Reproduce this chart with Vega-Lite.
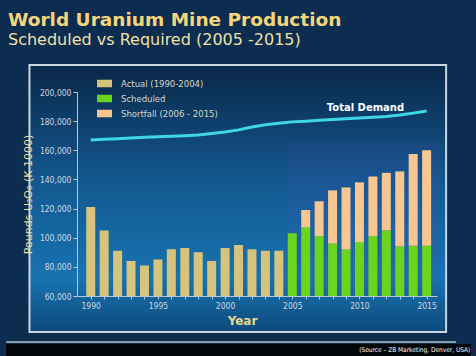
{
  "$schema": "https://vega.github.io/schema/vega-lite/v6.json",
  "width": 360,
  "height": 204,
  "autosize": "none",
  "padding": {"left": 77, "top": 92, "right": 39, "bottom": 60},
  "background": "#0c2c50",
  "title": {
    "text": "World Uranium Mine Production",
    "subtitle": "Scheduled vs Required (2005 -2015)",
    "anchor": "start",
    "frame": "group",
    "dx": -69,
    "offset": 16,
    "font": "DejaVu Sans",
    "fontSize": 18.5,
    "fontWeight": "bold",
    "color": "#f5d57a",
    "subtitleFont": "DejaVu Sans",
    "subtitleFontSize": 16,
    "subtitleColor": "#f0e0a6",
    "subtitlePadding": 3
  },
  "datasets": {
    "bars": [
      {"year": 1990, "series": "Actual (1990-2004)", "value": 121000},
      {"year": 1991, "series": "Actual (1990-2004)", "value": 105000},
      {"year": 1992, "series": "Actual (1990-2004)", "value": 91000},
      {"year": 1993, "series": "Actual (1990-2004)", "value": 84000},
      {"year": 1994, "series": "Actual (1990-2004)", "value": 81000},
      {"year": 1995, "series": "Actual (1990-2004)", "value": 85000},
      {"year": 1996, "series": "Actual (1990-2004)", "value": 92000},
      {"year": 1997, "series": "Actual (1990-2004)", "value": 93000},
      {"year": 1998, "series": "Actual (1990-2004)", "value": 90000},
      {"year": 1999, "series": "Actual (1990-2004)", "value": 84000},
      {"year": 2000, "series": "Actual (1990-2004)", "value": 93000},
      {"year": 2001, "series": "Actual (1990-2004)", "value": 95000},
      {"year": 2002, "series": "Actual (1990-2004)", "value": 92000},
      {"year": 2003, "series": "Actual (1990-2004)", "value": 91000},
      {"year": 2004, "series": "Actual (1990-2004)", "value": 91000},
      {"year": 2005, "series": "Scheduled", "value": 103000},
      {"year": 2006, "series": "Scheduled", "value": 107000},
      {"year": 2007, "series": "Scheduled", "value": 101000},
      {"year": 2008, "series": "Scheduled", "value": 96000},
      {"year": 2009, "series": "Scheduled", "value": 92000},
      {"year": 2010, "series": "Scheduled", "value": 97000},
      {"year": 2011, "series": "Scheduled", "value": 101000},
      {"year": 2012, "series": "Scheduled", "value": 105000},
      {"year": 2013, "series": "Scheduled", "value": 94000},
      {"year": 2014, "series": "Scheduled", "value": 94500},
      {"year": 2015, "series": "Scheduled", "value": 94500},
      {"year": 2006, "series": "Shortfall (2006 - 2015)", "value": 12000},
      {"year": 2007, "series": "Shortfall (2006 - 2015)", "value": 24000},
      {"year": 2008, "series": "Shortfall (2006 - 2015)", "value": 36500},
      {"year": 2009, "series": "Shortfall (2006 - 2015)", "value": 42500},
      {"year": 2010, "series": "Shortfall (2006 - 2015)", "value": 41000},
      {"year": 2011, "series": "Shortfall (2006 - 2015)", "value": 41000},
      {"year": 2012, "series": "Shortfall (2006 - 2015)", "value": 39500},
      {"year": 2013, "series": "Shortfall (2006 - 2015)", "value": 51500},
      {"year": 2014, "series": "Shortfall (2006 - 2015)", "value": 63000},
      {"year": 2015, "series": "Shortfall (2006 - 2015)", "value": 65500}
    ],
    "demand": [
      {"year": 1990, "value": 167000},
      {"year": 1991, "value": 167500},
      {"year": 1992, "value": 168000},
      {"year": 1993, "value": 168500},
      {"year": 1994, "value": 169000},
      {"year": 1995, "value": 169300},
      {"year": 1996, "value": 169600},
      {"year": 1997, "value": 170000},
      {"year": 1998, "value": 170500},
      {"year": 1999, "value": 171500},
      {"year": 2000, "value": 172500},
      {"year": 2001, "value": 174000},
      {"year": 2002, "value": 176000},
      {"year": 2003, "value": 177500},
      {"year": 2004, "value": 178500},
      {"year": 2005, "value": 179500},
      {"year": 2006, "value": 180000},
      {"year": 2007, "value": 180600},
      {"year": 2008, "value": 181200},
      {"year": 2009, "value": 181700},
      {"year": 2010, "value": 182200},
      {"year": 2011, "value": 182700},
      {"year": 2012, "value": 183200},
      {"year": 2013, "value": 184200},
      {"year": 2014, "value": 185500},
      {"year": 2015, "value": 187000}
    ]
  },
  "encoding": {
    "x": {
      "type": "quantitative",
      "scale": {"domain": [1989.35, 2015.4], "nice": false, "zero": false},
      "axis": {
        "values": [1990,1991,1992,1993,1994,1995,1996,1997,1998,1999,2000,2001,2002,2003,2004,2005,2006,2007,2008,2009,2010,2011,2012,2013,2014,2015],
        "format": "d",
        "labelExpr": "datum.value % 5 === 0 ? datum.label : ''",
        "labelOverlap": false,
        "labelBound": false,
        "labelFlush": false,
        "labelSeparation": 0,
        "grid": false,
        "zindex": 2,
        "domainColor": "#b8c8d8",
        "tickColor": "#b8c8d8",
        "tickSize": 3,
        "labelColor": "#d0d8e2",
        "labelFont": "DejaVu Sans Condensed",
        "labelFontSize": 8.5,
        "labelPadding": 2,
        "title": "Year",
        "titleColor": "#e8d890",
        "titleFont": "DejaVu Sans",
        "titleFontSize": 12,
        "titleFontWeight": "bold",
        "titleX": 165,
        "titlePadding": 6
      }
    },
    "y": {
      "type": "quantitative",
      "scale": {"domain": [60000, 200000], "nice": false, "zero": false},
      "axis": {
        "values": [60000, 80000, 100000, 120000, 140000, 160000, 180000, 200000],
        "format": ",d",
        "labelOverlap": false,
        "labelBound": false,
        "labelFlush": false,
        "labelSeparation": 0,
        "grid": false,
        "zindex": 2,
        "domainColor": "#b8c8d8",
        "tickColor": "#b8c8d8",
        "tickSize": 4,
        "labelColor": "#d0d8e2",
        "labelFont": "DejaVu Sans Condensed",
        "labelFontSize": 8.5,
        "labelPadding": 2,
        "title": "Pounds U₃O₈ (K 1000)",
        "titleColor": "#e8dca0",
        "titleFont": "DejaVu Sans",
        "titleFontSize": 11,
        "titleFontWeight": "normal",
        "titlePadding": 6
      }
    }
  },
  "layer": [
    {
      "data": {"values": [{}]},
      "mark": {
        "type": "rect",
        "clip": false,
        "stroke": "#c8d6e2",
        "strokeWidth": 2,
        "fill": {
          "gradient": "linear",
          "x1": 0, "y1": 0, "x2": 0, "y2": 1,
          "stops": [
            {"offset": 0, "color": "#0a2748"},
            {"offset": 0.45, "color": "#135a92"},
            {"offset": 0.8, "color": "#1873b0"},
            {"offset": 1, "color": "#0e4a7c"}
          ]
        }
      },
      "encoding": {
        "x": {"datum": 1985.44},
        "x2": {"datum": 2016.45},
        "y": {"datum": 218529},
        "y2": {"datum": 35294}
      }
    },
    {
      "data": {"values": [{}]},
      "mark": {"type": "rect", "clip": false, "fill": "#5a4ac0", "opacity": 0.12},
      "encoding": {
        "x": {"datum": 2004.57},
        "x2": {"datum": 2015.9},
        "y": {"datum": 165000},
        "y2": {"datum": 60000}
      }
    },
    {
      "data": {"values": [{}]},
      "mark": {"type": "rect", "clip": false, "fill": "#030608"},
      "encoding": {
        "x": {"datum": 1983.7},
        "x2": {"datum": 2018.3},
        "y": {"datum": 27000},
        "y2": {"datum": 17000}
      }
    },
    {
      "data": {"values": [{}]},
      "mark": {"type": "rule", "clip": false, "stroke": "#8c9aa8", "strokeWidth": 2},
      "encoding": {
        "x": {"datum": 1983.7},
        "x2": {"datum": 2017.2},
        "y": {"datum": 28400}
      }
    },
    {
      "data": {"values": [{}]},
      "mark": {
        "type": "text",
        "clip": false,
        "text": "(Source – ZB Marketing, Denver, USA)",
        "align": "right",
        "baseline": "alphabetic",
        "font": "DejaVu Sans Condensed",
        "fontSize": 6.5,
        "color": "#ffffff"
      },
      "encoding": {
        "x": {"datum": 2018.25},
        "y": {"datum": 21600}
      }
    },
    {
      "data": {"name": "bars"},
      "mark": {"type": "bar", "size": 9, "clip": true},
      "encoding": {
        "x": {"field": "year"},
        "y": {"field": "value", "stack": "zero"},
        "order": {"field": "series", "sort": "ascending"},
        "color": {
          "field": "series",
          "type": "nominal",
          "scale": {
            "domain": ["Actual (1990-2004)", "Scheduled", "Shortfall (2006 - 2015)"],
            "range": ["#d6c47c", "#6cd41c", "#f8c690"]
          },
          "legend": {
            "orient": "none",
            "legendX": 20,
            "legendY": -16,
            "title": null,
            "symbolType": "M-1,-0.5H1V0.5H-1Z",
            "symbolSize": 225,
            "symbolStrokeWidth": 0,
            "labelColor": "#d8d8c8",
            "labelFont": "DejaVu Sans",
            "labelFontSize": 8.5,
            "labelOffset": 9,
            "rowPadding": 3
          }
        }
      }
    },
    {
      "data": {"name": "demand"},
      "mark": {"type": "line", "color": "#3fd6e6", "strokeWidth": 3, "clip": true},
      "encoding": {
        "x": {"field": "year"},
        "y": {"field": "value"}
      }
    },
    {
      "data": {"name": "demand"},
      "transform": [{"filter": "datum.year == 2010"}],
      "mark": {
        "type": "text",
        "text": "Total Demand",
        "font": "DejaVu Sans",
        "fontWeight": "bold",
        "fontSize": 10,
        "color": "#ffffff",
        "align": "center",
        "baseline": "alphabetic",
        "dx": 6,
        "dy": -7
      },
      "encoding": {
        "x": {"field": "year"},
        "y": {"field": "value"}
      }
    }
  ],
  "config": {
    "view": {"stroke": null},
    "axis": {"labelOverlap": false}
  }
}
